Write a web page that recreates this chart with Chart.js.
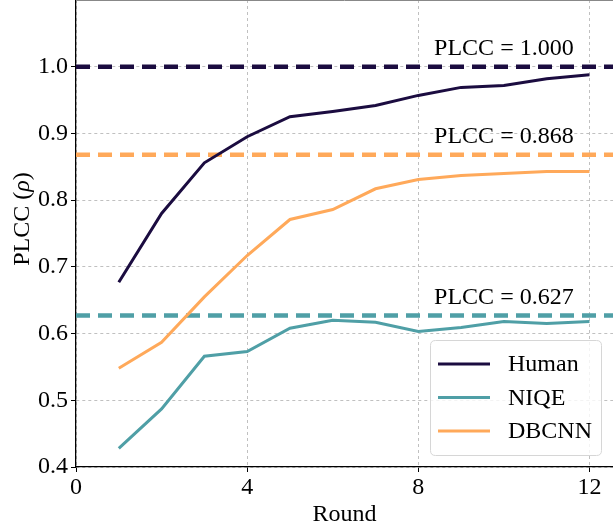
<!DOCTYPE html>
<html>
<head>
<meta charset="utf-8">
<script src="https://cdn.jsdelivr.net/npm/chart.js@4.4.1/dist/chart.umd.min.js"></script>
<style>
  html, body { margin: 0; padding: 0; background: #fff; }
  #wrap { width: 613px; height: 529px; position: relative; }
</style>
</head>
<body>
<div id="wrap"><canvas id="c" width="613" height="529"></canvas></div>
<script>
const rounds = [1, 2, 3, 4, 5, 6, 7, 8, 9, 10, 11, 12];
const human  = [0.677, 0.780, 0.856, 0.895, 0.925, 0.933, 0.942, 0.957, 0.969, 0.972, 0.982, 0.988];
const niqe   = [0.428, 0.487, 0.566, 0.573, 0.608, 0.620, 0.617, 0.603, 0.609, 0.618, 0.615, 0.618];
const dbcnn  = [0.548, 0.587, 0.655, 0.717, 0.771, 0.786, 0.817, 0.831, 0.837, 0.840, 0.843, 0.843];
const seriesNames = ['Human', 'NIQE', 'DBCNN'];
const refValues = [1.000, 0.627, 0.868];   // Human, NIQE, DBCNN
const refLabels = ['PLCC = 1.000', 'PLCC = 0.627', 'PLCC = 0.868'];
const xTicks = [0, 4, 8, 12];
const yTicks = [0.4, 0.5, 0.6, 0.7, 0.8, 0.9, 1.0];

const colors = ['#1b0c40', '#4f9fa6', '#ffa95a'];
const FONT = "'Liberation Serif', 'Times New Roman', serif";
const X_MIN = 0, X_MAX = 12.55, Y_MIN = 0.4, Y_MAX = 1.1;

const seriesData = [human, niqe, dbcnn];
const datasets = [];
seriesData.forEach((arr, i) => {
  datasets.push({
    label: seriesNames[i],
    data: rounds.map((r, k) => ({ x: r, y: arr[k] })),
    borderColor: colors[i],
    borderWidth: 3,
    pointRadius: 0,
    tension: 0,
    fill: false
  });
});
refValues.forEach((v, i) => {
  datasets.push({
    label: refLabels[i],
    data: [{ x: X_MIN, y: v }, { x: X_MAX, y: v }],
    borderColor: colors[i],
    borderWidth: 4.5,
    borderDash: [14, 8],
    pointRadius: 0,
    tension: 0,
    fill: false
  });
});

const extras = {
  id: 'extras',
  afterDraw(chart) {
    const ctx = chart.ctx;
    const ca = chart.chartArea;
    const xs = chart.scales.x, ys = chart.scales.y;
    ctx.save();
    // top border
    ctx.strokeStyle = '#888';
    ctx.lineWidth = 1;
    ctx.beginPath();
    ctx.moveTo(ca.left, ca.top + 0.5);
    ctx.lineTo(ca.right, ca.top + 0.5);
    ctx.stroke();

    // reference annotations
    ctx.fillStyle = '#000';
    ctx.font = '24px ' + FONT;
    ctx.textAlign = 'center';
    ctx.textBaseline = 'alphabetic';
    refValues.forEach((v, i) => {
      const px = xs.getPixelForValue(10.0);
      const py = ys.getPixelForValue(v) - 12;
      ctx.fillText(refLabels[i], px, py);
    });

    // y axis title with italic rho
    ctx.save();
    ctx.translate(23, 219);
    ctx.rotate(-Math.PI / 2);
    ctx.textBaseline = 'middle';
    ctx.textAlign = 'left';
    const parts = [['PLCC (', '24px ' + FONT], ['ρ', 'italic 24px ' + FONT], [')', '24px ' + FONT]];
    let total = 0;
    parts.forEach(p => { ctx.font = p[1]; total += ctx.measureText(p[0]).width; });
    let cx = -total / 2;
    parts.forEach(p => { ctx.font = p[1]; ctx.fillText(p[0], cx, 0); cx += ctx.measureText(p[0]).width; });
    ctx.restore();

    // legend
    const lx = 430.5, ly = 340.5, lw = 171, lh = 115, r = 5;
    ctx.beginPath();
    ctx.moveTo(lx + r, ly);
    ctx.lineTo(lx + lw - r, ly);
    ctx.quadraticCurveTo(lx + lw, ly, lx + lw, ly + r);
    ctx.lineTo(lx + lw, ly + lh - r);
    ctx.quadraticCurveTo(lx + lw, ly + lh, lx + lw - r, ly + lh);
    ctx.lineTo(lx + r, ly + lh);
    ctx.quadraticCurveTo(lx, ly + lh, lx, ly + lh - r);
    ctx.lineTo(lx, ly + r);
    ctx.quadraticCurveTo(lx, ly, lx + r, ly);
    ctx.closePath();
    ctx.fillStyle = 'rgba(255,255,255,0.8)';
    ctx.fill();
    ctx.strokeStyle = '#d6d6d6';
    ctx.lineWidth = 1;
    ctx.stroke();
    ctx.font = '24px ' + FONT;
    ctx.textAlign = 'left';
    ctx.textBaseline = 'middle';
    seriesNames.forEach((n, i) => {
      const yy = 364 + i * 33.5;
      ctx.strokeStyle = colors[i];
      ctx.lineWidth = 3;
      ctx.beginPath();
      ctx.moveTo(438, yy);
      ctx.lineTo(490, yy);
      ctx.stroke();
      ctx.fillStyle = '#000';
      ctx.fillText(n, 508, yy + 1);
    });
    ctx.restore();
  }
};

new Chart(document.getElementById('c'), {
  type: 'line',
  data: { datasets },
  options: {
    responsive: false,
    animation: false,
    layout: { padding: { top: 0, right: 0, left: 0, bottom: 0 } },
    plugins: { legend: { display: false }, tooltip: { enabled: false } },
    scales: {
      x: {
        type: 'linear',
        min: X_MIN, max: X_MAX,
        afterBuildTicks: s => { s.ticks = xTicks.map(v => ({ value: v })); },
        afterFit: s => { s.height = 62; s.paddingRight = 0; s.paddingLeft = 0; },
        ticks: { color: '#000', font: { family: FONT, size: 24 }, padding: 1, maxRotation: 0 },
        grid: { color: '#c0c0c0', lineWidth: 1, tickColor: '#000', tickLength: 5, tickWidth: 1, tickBorderDash: [] },
        border: { display: true, color: '#000', width: 1.3, dash: [3, 3] },
        title: { display: true, text: 'Round', color: '#000', font: { family: FONT, size: 24 }, padding: { top: 0, bottom: 0 } }
      },
      y: {
        type: 'linear',
        min: Y_MIN, max: Y_MAX,
        afterBuildTicks: s => { s.ticks = yTicks.map(v => ({ value: v })); },
        afterFit: s => { s.width = 76; s.paddingTop = 0; s.paddingBottom = 0; },
        ticks: { color: '#000', font: { family: FONT, size: 24 }, padding: 3, callback: v => v.toFixed(1) },
        grid: { color: '#c0c0c0', lineWidth: 1, tickColor: '#000', tickLength: 5, tickWidth: 1, tickBorderDash: [] },
        border: { display: true, color: '#000', width: 1.3, dash: [3, 3] }
      }
    }
  },
  plugins: [extras]
});
</script>
</body>
</html>
